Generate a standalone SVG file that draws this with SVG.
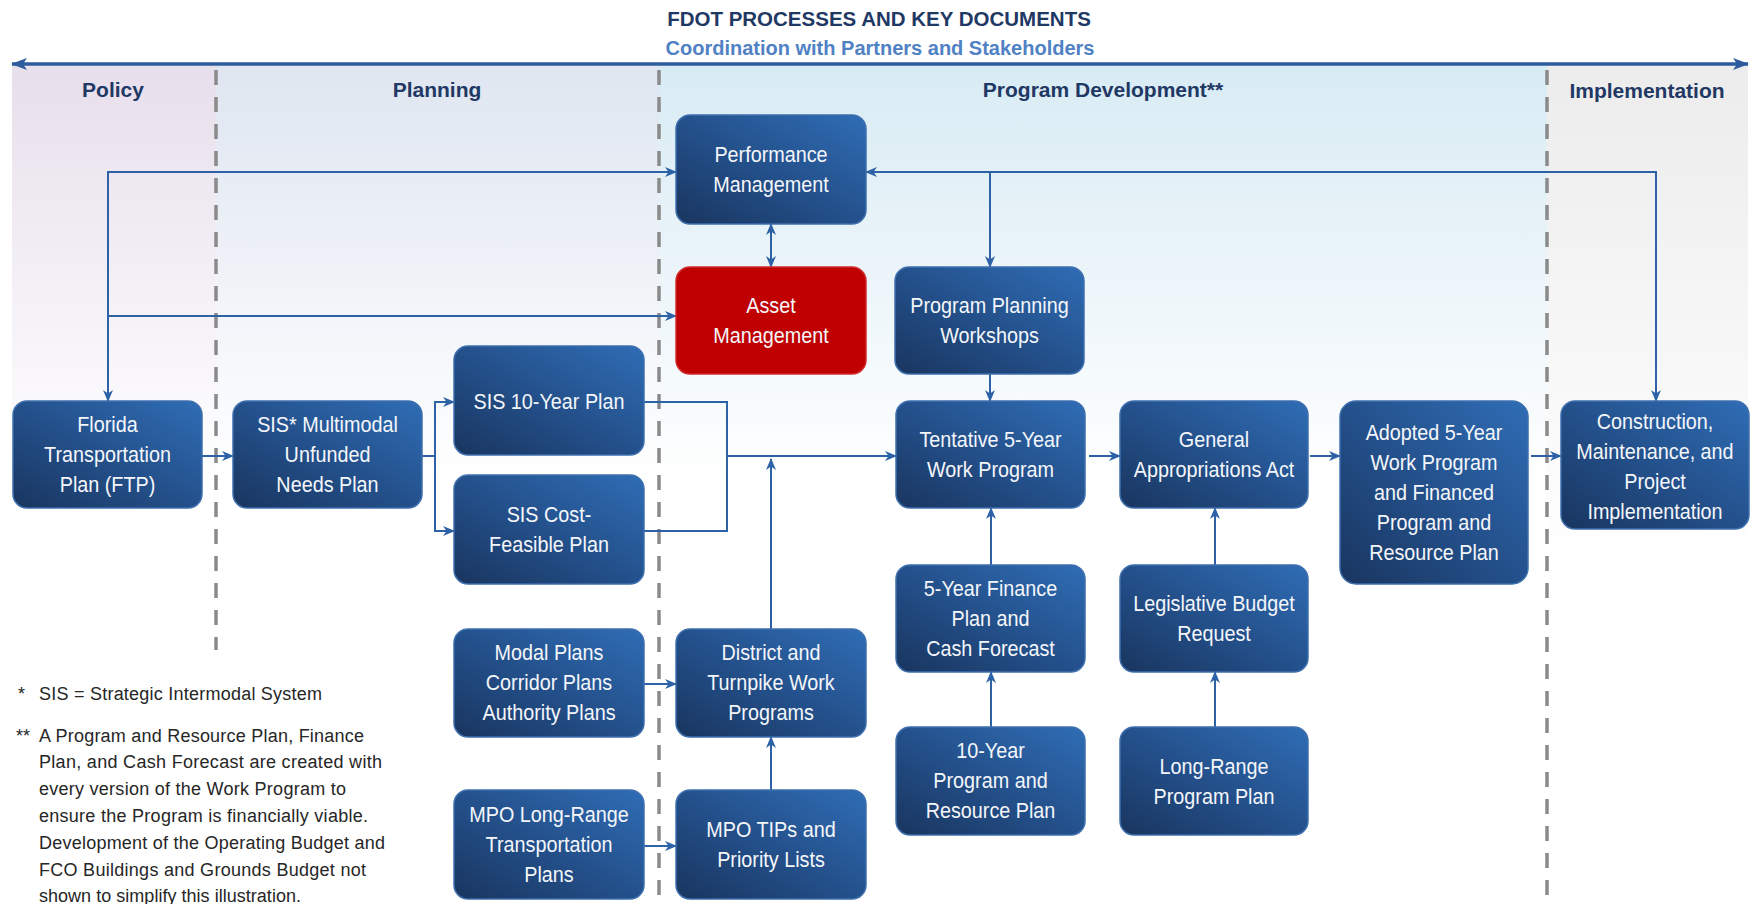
<svg xmlns="http://www.w3.org/2000/svg" width="1758" height="904" viewBox="0 0 1758 904">
<defs>
<style>
.box{fill:url(#boxg);stroke:#3e6fae;stroke-width:1.5}
.red{fill:#c00000;stroke:#cf2a2a;stroke-width:1.5}
.nt{font-family:"Liberation Sans",Arial,sans-serif;font-size:22px;fill:#f4f6fa;text-anchor:middle}
.hd{font-family:"Liberation Sans",Arial,sans-serif;font-size:21px;font-weight:bold;fill:#1f3864;text-anchor:middle}
.fn{font-family:"Liberation Sans",Arial,sans-serif;font-size:18px;fill:#262626}
.cn{fill:none;stroke:#2e62a6;stroke-width:2}
.ar{marker-end:url(#ah)}
.ar2{marker-start:url(#ah);marker-end:url(#ah)}
.dash{stroke:#8a8a8a;stroke-width:3.5;stroke-dasharray:15 12;fill:none}
</style>
<linearGradient id="boxg" x1="0" y1="1" x2="1" y2="0">
<stop offset="0" stop-color="#19355f"/>
<stop offset="0.5" stop-color="#24518c"/>
<stop offset="1" stop-color="#2f6db5"/>
</linearGradient>
<linearGradient id="bgPol" x1="0" y1="0" x2="0" y2="1">
<stop offset="0" stop-color="#e7dfec"/>
<stop offset="1" stop-color="#e7dfec" stop-opacity="0"/>
</linearGradient>
<linearGradient id="bgPla" x1="0" y1="0" x2="0" y2="1">
<stop offset="0" stop-color="#dfe6f1"/>
<stop offset="1" stop-color="#dfe6f1" stop-opacity="0"/>
</linearGradient>
<linearGradient id="bgDev" x1="0" y1="0" x2="0" y2="1">
<stop offset="0" stop-color="#d8ebf4"/>
<stop offset="1" stop-color="#d8ebf4" stop-opacity="0"/>
</linearGradient>
<linearGradient id="bgImp" x1="0" y1="0" x2="0" y2="1">
<stop offset="0" stop-color="#ececec"/>
<stop offset="1" stop-color="#ececec" stop-opacity="0"/>
</linearGradient>
<marker id="ah" markerUnits="userSpaceOnUse" markerWidth="12" markerHeight="10" refX="11" refY="5" orient="auto-start-reverse" viewBox="0 0 12 10">
<path d="M0,0 L12,5 L0,10 L3.5,5 Z" fill="#2e62a6"/>
</marker>
<marker id="big" markerUnits="userSpaceOnUse" markerWidth="16" markerHeight="12" refX="15" refY="6" orient="auto-start-reverse" viewBox="0 0 16 12">
<path d="M0,0 L16,6 L0,12 L4,6 Z" fill="#2c5c9e"/>
</marker>
</defs>
<rect width="1758" height="904" fill="#ffffff"/>

<g id="backgrounds">
<rect x="12" y="64" width="204" height="420" fill="url(#bgPol)"/>
<rect x="216" y="64" width="443" height="420" fill="url(#bgPla)"/>
<rect x="659" y="64" width="888" height="420" fill="url(#bgDev)"/>
<rect x="1547" y="64" width="201" height="500" fill="url(#bgImp)"/>
</g>

<g id="dividers">
<line class="dash" x1="216" y1="70" x2="216" y2="650"/>
<line class="dash" x1="659" y1="70" x2="659" y2="904"/>
<line class="dash" x1="1547" y1="70" x2="1547" y2="904"/>
</g>

<g id="headings">
<text x="879" y="26" font-family="'Liberation Sans',Arial,sans-serif" font-size="20.5" font-weight="bold" fill="#1f3864" text-anchor="middle">FDOT PROCESSES AND KEY DOCUMENTS</text>
<text x="880" y="55" font-family="'Liberation Sans',Arial,sans-serif" font-size="20" font-weight="bold" fill="#4f81c4" text-anchor="middle">Coordination with Partners and Stakeholders</text>
<text class="hd" x="113" y="97">Policy</text>
<text class="hd" x="437" y="97">Planning</text>
<text class="hd" x="1103" y="97">Program Development**</text>
<text class="hd" x="1647" y="98">Implementation</text>
</g>

<g id="connectors">
<line x1="12" y1="64" x2="1748" y2="64" stroke="#2c5c9e" stroke-width="3.5" marker-start="url(#big)" marker-end="url(#big)"/>
<path class="cn ar2" d="M676,172 H108 V401"/>
<path class="cn ar" d="M108,316 H676"/>
<path class="cn ar2" d="M866,172 H1656 V401"/>
<path class="cn ar" d="M990,172 V267"/>
<path class="cn ar2" d="M771,224 V267"/>
<path class="cn ar" d="M990,374 V401"/>
<path class="cn ar" d="M202,456 H233"/>
<path class="cn" d="M422,456 H435"/>
<path class="cn ar2" d="M454,402 H435 V531 H454"/>
<path class="cn" d="M644,402 H727 V531 H644"/>
<path class="cn ar" d="M727,456 H896"/>
<path class="cn ar" d="M771,629 V459"/>
<path class="cn ar" d="M771,790 V737"/>
<path class="cn ar" d="M644,684 H676"/>
<path class="cn ar" d="M644,846 H676"/>
<path class="cn ar" d="M1089,456 H1120"/>
<path class="cn ar" d="M1310,456 H1340"/>
<path class="cn ar" d="M1531,456 H1561"/>
<path class="cn ar" d="M991,565 V508"/>
<path class="cn ar" d="M991,727 V672"/>
<path class="cn ar" d="M1215,565 V508"/>
<path class="cn ar" d="M1215,727 V672"/>
</g>

<g id="perf-mgmt">
<rect class="box" x="676" y="115" width="190" height="109" rx="14"/>
<g transform="translate(771,0) scale(0.9,1)"><text class="nt"><tspan x="0" y="162">Performance</tspan><tspan x="0" y="192">Management</tspan></text></g>
</g>
<g id="asset-mgmt">
<rect class="red" x="676" y="267" width="190" height="107" rx="14"/>
<g transform="translate(771,0) scale(0.9,1)"><text class="nt"><tspan x="0" y="313">Asset</tspan><tspan x="0" y="343">Management</tspan></text></g>
</g>
<g id="program-planning-workshops">
<rect class="box" x="895" y="267" width="189" height="107" rx="14"/>
<g transform="translate(989.5,0) scale(0.9,1)"><text class="nt"><tspan x="0" y="313">Program Planning</tspan><tspan x="0" y="343">Workshops</tspan></text></g>
</g>
<g id="ftp">
<rect class="box" x="13" y="401" width="189" height="107" rx="14"/>
<g transform="translate(107.5,0) scale(0.9,1)"><text class="nt"><tspan x="0" y="432">Florida</tspan><tspan x="0" y="462">Transportation</tspan><tspan x="0" y="492">Plan (FTP)</tspan></text></g>
</g>
<g id="sis-needs">
<rect class="box" x="233" y="401" width="189" height="107" rx="14"/>
<g transform="translate(327.5,0) scale(0.9,1)"><text class="nt"><tspan x="0" y="432">SIS* Multimodal</tspan><tspan x="0" y="462">Unfunded</tspan><tspan x="0" y="492">Needs Plan</tspan></text></g>
</g>
<g id="sis-10yr">
<rect class="box" x="454" y="346" width="190" height="109" rx="14"/>
<g transform="translate(549,0) scale(0.9,1)"><text class="nt"><tspan x="0" y="409">SIS 10-Year Plan</tspan></text></g>
</g>
<g id="sis-cfp">
<rect class="box" x="454" y="475" width="190" height="109" rx="14"/>
<g transform="translate(549,0) scale(0.9,1)"><text class="nt"><tspan x="0" y="522">SIS Cost-</tspan><tspan x="0" y="552">Feasible Plan</tspan></text></g>
</g>
<g id="tentative">
<rect class="box" x="896" y="401" width="189" height="107" rx="14"/>
<g transform="translate(990.5,0) scale(0.9,1)"><text class="nt"><tspan x="0" y="447">Tentative 5-Year</tspan><tspan x="0" y="477">Work Program</tspan></text></g>
</g>
<g id="gaa">
<rect class="box" x="1120" y="401" width="188" height="107" rx="14"/>
<g transform="translate(1214,0) scale(0.9,1)"><text class="nt"><tspan x="0" y="447">General</tspan><tspan x="0" y="477">Appropriations Act</tspan></text></g>
</g>
<g id="adopted">
<rect class="box" x="1340" y="401" width="188" height="183" rx="16"/>
<g transform="translate(1434,0) scale(0.9,1)"><text class="nt"><tspan x="0" y="440">Adopted 5-Year</tspan><tspan x="0" y="470">Work Program</tspan><tspan x="0" y="500">and Financed</tspan><tspan x="0" y="530">Program and</tspan><tspan x="0" y="560">Resource Plan</tspan></text></g>
</g>
<g id="construction">
<rect class="box" x="1561" y="401" width="188" height="128" rx="14"/>
<g transform="translate(1655,0) scale(0.9,1)"><text class="nt"><tspan x="0" y="429">Construction,</tspan><tspan x="0" y="459">Maintenance, and</tspan><tspan x="0" y="489">Project</tspan><tspan x="0" y="519">Implementation</tspan></text></g>
</g>
<g id="finance-plan">
<rect class="box" x="896" y="565" width="189" height="107" rx="14"/>
<g transform="translate(990.5,0) scale(0.9,1)"><text class="nt"><tspan x="0" y="596">5-Year Finance</tspan><tspan x="0" y="626">Plan and</tspan><tspan x="0" y="656">Cash Forecast</tspan></text></g>
</g>
<g id="lbr">
<rect class="box" x="1120" y="565" width="188" height="107" rx="14"/>
<g transform="translate(1214,0) scale(0.9,1)"><text class="nt"><tspan x="0" y="611">Legislative Budget</tspan><tspan x="0" y="641">Request</tspan></text></g>
</g>
<g id="ten-year">
<rect class="box" x="896" y="727" width="189" height="108" rx="14"/>
<g transform="translate(990.5,0) scale(0.9,1)"><text class="nt"><tspan x="0" y="758">10-Year</tspan><tspan x="0" y="788">Program and</tspan><tspan x="0" y="818">Resource Plan</tspan></text></g>
</g>
<g id="lrpp">
<rect class="box" x="1120" y="727" width="188" height="108" rx="14"/>
<g transform="translate(1214,0) scale(0.9,1)"><text class="nt"><tspan x="0" y="774">Long-Range</tspan><tspan x="0" y="804">Program Plan</tspan></text></g>
</g>
<g id="modal-plans">
<rect class="box" x="454" y="629" width="190" height="108" rx="14"/>
<g transform="translate(549,0) scale(0.9,1)"><text class="nt"><tspan x="0" y="660">Modal Plans</tspan><tspan x="0" y="690">Corridor Plans</tspan><tspan x="0" y="720">Authority Plans</tspan></text></g>
</g>
<g id="district">
<rect class="box" x="676" y="629" width="190" height="108" rx="14"/>
<g transform="translate(771,0) scale(0.9,1)"><text class="nt"><tspan x="0" y="660">District and</tspan><tspan x="0" y="690">Turnpike Work</tspan><tspan x="0" y="720">Programs</tspan></text></g>
</g>
<g id="mpo-lrtp">
<rect class="box" x="454" y="790" width="190" height="109" rx="14"/>
<g transform="translate(549,0) scale(0.9,1)"><text class="nt"><tspan x="0" y="822">MPO Long-Range</tspan><tspan x="0" y="852">Transportation</tspan><tspan x="0" y="882">Plans</tspan></text></g>
</g>
<g id="mpo-tips">
<rect class="box" x="676" y="790" width="190" height="109" rx="14"/>
<g transform="translate(771,0) scale(0.9,1)"><text class="nt"><tspan x="0" y="837">MPO TIPs and</tspan><tspan x="0" y="867">Priority Lists</tspan></text></g>
</g>

<g id="footnotes">
<text class="fn" x="18" y="700">*</text>
<text class="fn" x="39" y="700" textLength="283" lengthAdjust="spacing">SIS = Strategic Intermodal System</text>
<text class="fn" x="16" y="742">**</text>
<text class="fn" x="39" y="742" textLength="325" lengthAdjust="spacing">A Program and Resource Plan, Finance</text>
<text class="fn" x="39" y="768" textLength="343" lengthAdjust="spacing">Plan, and Cash Forecast are created with</text>
<text class="fn" x="39" y="795" textLength="307" lengthAdjust="spacing">every version of the Work Program to</text>
<text class="fn" x="39" y="822" textLength="329" lengthAdjust="spacing">ensure the Program is financially viable.</text>
<text class="fn" x="39" y="849" textLength="346" lengthAdjust="spacing">Development of the Operating Budget and</text>
<text class="fn" x="39" y="876" textLength="327" lengthAdjust="spacing">FCO Buildings and Grounds Budget not</text>
<text class="fn" x="39" y="902" textLength="262" lengthAdjust="spacing">shown to simplify this illustration.</text>
</g>
</svg>
